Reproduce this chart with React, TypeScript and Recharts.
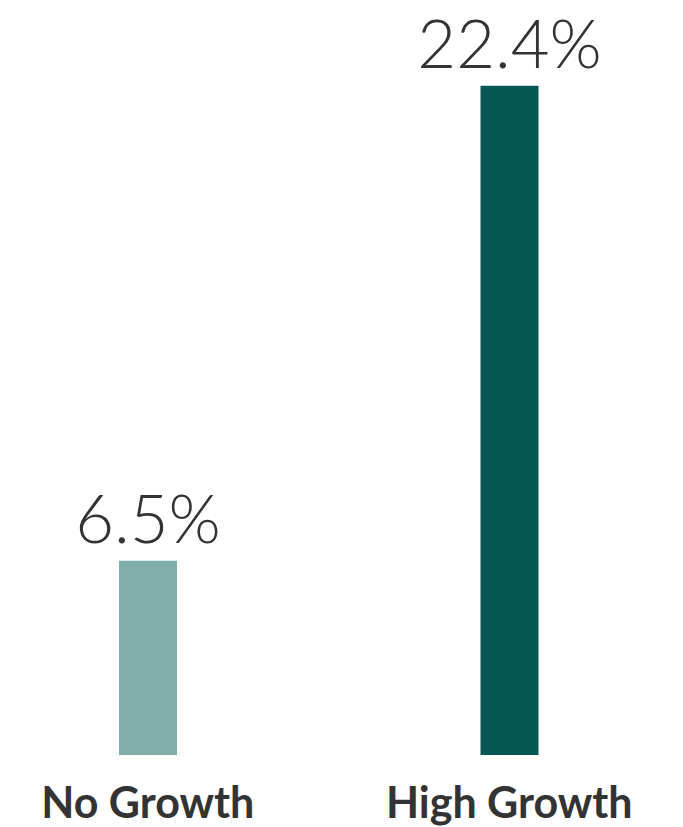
import React from 'react';
import { BarChart, Bar, XAxis, YAxis, Cell, LabelList } from 'recharts';

const categories = ['No Growth', 'High Growth'];
const values = [6.5, 22.4];
const colors = ['#80ADA9', '#045753'];

const data = categories.map((name, i) => ({ name, value: values[i] }));

const CategoryTick = (props: any) => {
  const { x, y, payload } = props;
  return (
    <text
      x={x}
      y={y + 63}
      textAnchor="middle"
      fontFamily="Lato"
      fontWeight={700}
      fontSize={43}
      fill="#333333"
    >
      {payload.value}
    </text>
  );
};

const App: React.FC = () => {
  return (
    <div style={{ position: 'absolute', left: 0, top: 0, width: 683, height: 827, background: '#fff' }}>
      <BarChart
        width={683}
        height={827}
        data={data}
        margin={{ top: 8, right: -7, bottom: 0, left: -33 }}
        barCategoryGap={152}
      >
        <XAxis
          dataKey="name"
          axisLine={false}
          tickLine={false}
          tickSize={0}
          tickMargin={0}
          height={72}
          interval={0}
          tick={<CategoryTick />}
        />
        <YAxis hide domain={[0, 25]} />
        <Bar dataKey="value" isAnimationActive={false}>
          {data.map((d, i) => (
            <Cell key={d.name} fill={colors[i]} />
          ))}
          <LabelList
            dataKey="value"
            position="top"
            offset={18}
            formatter={(v: any) => `${v}%`}
            fontFamily="Lato"
            fontWeight={300}
            fontSize={67}
            fill="#333333"
          />
        </Bar>
      </BarChart>
    </div>
  );
};

export default App;
